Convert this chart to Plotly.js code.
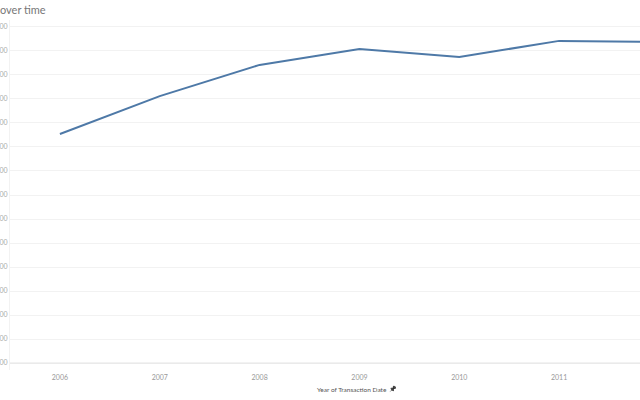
<!DOCTYPE html>
<html>
<head>
<meta charset="utf-8">
<script src="https://cdn.plot.ly/plotly-3.0.1.min.js"></script>
<style>html,body{margin:0;padding:0;background:#fff;}#chart{width:640px;height:400px;}</style>
</head>
<body>
<div id="chart"></div>
<script>
const years = [2006, 2007, 2008, 2009, 2010, 2011, 2012];
const values = [1054, 1212, 1342, 1408, 1375, 1442, 1437];
const tickVals = [100,200,300,400,500,600,700,800,900,1000,1100,1200,1300,1400,1500];
// only the last digits of each label are visible in the reference (cropped at the left edge)
const tickText = ['00','00','00','00','00','00','00','00','00','00','00','00','00','00','00'];
const yearTicks = [2006, 2007, 2008, 2009, 2010, 2011];

const trace = {
  x: years, y: values, type: 'scatter', mode: 'lines',
  line: {color: '#4e79a7', width: 2},
  hoverinfo: 'skip'
};

const layout = {
  width: 640, height: 400,
  margin: {l: 10, r: 0, t: 20, b: 30, pad: 0},
  paper_bgcolor: '#ffffff', plot_bgcolor: '#ffffff',
  showlegend: false,
  font: {family: 'Lato, "Open Sans", sans-serif', color: '#999'},
  title: {
    text: 'over time', xref: 'container', yref: 'container',
    x: 0, xanchor: 'left', y: 0.975, yanchor: 'middle',
    font: {size: 11, color: '#777', family: 'Lato, "Open Sans", sans-serif'}
  },
  xaxis: {
    range: [2005.5, 2011.81],
    tickvals: yearTicks, ticktext: yearTicks.map(String),
    showgrid: false, zeroline: false, showline: false,
    ticks: '', tickfont: {size: 7, color: '#999'},
    ticklabelstandoff: 2,
    fixedrange: true
  },
  yaxis: {
    range: [71, 1529],
    tickvals: tickVals, ticktext: tickText,
    showgrid: true, gridcolor: '#f2f2f2', gridwidth: 1,
    zeroline: false,
    showline: true, linecolor: '#f2f2f2', linewidth: 1,
    ticks: '', tickfont: {size: 7, color: '#aaa'},
    automargin: false, fixedrange: true
  },
  shapes: [{
    type: 'line', xref: 'paper', yref: 'y', x0: 0, x1: 1, y0: 100, y1: 100,
    line: {color: '#e3e3e3', width: 1}
  }],
  annotations: [{
    text: 'Year of Transaction Date', xref: 'paper', yref: 'paper',
    x: 0.543, y: 0, yshift: -19, xanchor: 'center', yanchor: 'middle',
    showarrow: false, font: {size: 6.5, color: '#555'}
  }, {
    text: '📌', xref: 'paper', yref: 'paper',
    x: 0.608, y: 0, yshift: -19, xanchor: 'center', yanchor: 'middle',
    showarrow: false, font: {size: 6, color: '#555'}
  }]
};

Plotly.newPlot('chart', [trace], layout, {displayModeBar: false, staticPlot: true}).then(function (gd) {
  gd.querySelectorAll('.annotation-text').forEach(function (el) {
    if (el.textContent === '📌') el.style.filter = 'grayscale(1) brightness(0.6)';
  });
});
</script>
</body>
</html>
